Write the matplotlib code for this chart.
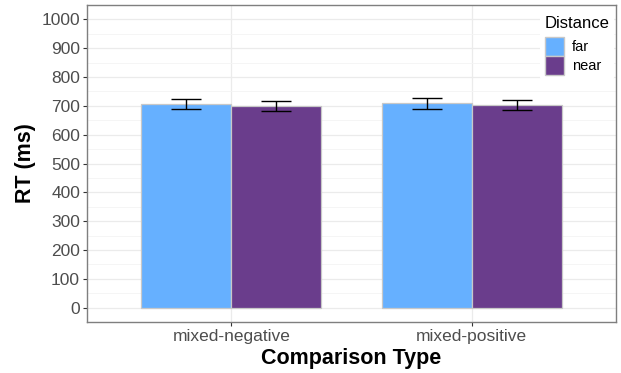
import numpy as np
import matplotlib.pyplot as plt
from matplotlib.patches import Patch
from matplotlib.ticker import MultipleLocator

plt.rcParams['font.family'] = ['Liberation Sans', 'DejaVu Sans']

# data
comparison = ['mixed-negative', 'mixed-positive']
distance = ['far', 'near']
rt_far = [707, 709]
rt_near = [700, 703]
se_far = [18.5, 19]
se_near = [17, 19]
colors = {'far': '#66b0ff', 'near': '#6a3d8c'}

fig = plt.figure(figsize=(6.21, 3.73), dpi=100)
ax = fig.add_axes([87 / 621, 1 - 322 / 373, (616 - 87) / 621, (322 - 5) / 373])

x = np.arange(1, len(comparison) + 1)
w = 0.375
for off, vals, errs, name in [(-w / 2, rt_far, se_far, 'far'), (w / 2, rt_near, se_near, 'near')]:
    ax.bar(x + off, vals, width=w, color=colors[name], edgecolor='#c8c8c8', linewidth=0.9, zorder=2)
    ax.errorbar(x + off, vals, yerr=errs, fmt='none', ecolor='black', elinewidth=1.0,
                capsize=11, capthick=1.0, zorder=3)

ax.set_xlim(0.4, 2.6)
ax.set_ylim(-50, 1050)
ax.set_xticks(x)
ax.set_xticklabels(comparison)
ax.yaxis.set_major_locator(MultipleLocator(100))
ax.yaxis.set_minor_locator(MultipleLocator(50))
ax.tick_params(axis='both', which='major', labelsize=12.5, labelcolor='#4d4d4d', color='#333333',
               length=3, width=0.8, pad=2)
ax.tick_params(axis='y', which='minor', length=0)
ax.grid(True, which='major', color='#ebebeb', linewidth=0.9, zorder=0)
ax.grid(True, which='minor', axis='y', color='#f4f4f4', linewidth=0.6, zorder=0)
ax.set_axisbelow(True)
for s in ax.spines.values():
    s.set_color('#7f7f7f')
    s.set_linewidth(1.0)

ax.set_xlabel('Comparison Type', fontsize=15.5, fontweight='bold', labelpad=3)
ax.set_ylabel('RT (ms)', fontsize=15.5, fontweight='bold', labelpad=4)

handles = [Patch(facecolor=colors[d], edgecolor='#c8c8c8', label=d) for d in distance]
leg = ax.legend(handles=handles, title='Distance', loc='upper right', bbox_to_anchor=(1.0, 0.985),
                frameon=True, fontsize=10.5, title_fontsize=12, handlelength=1.3, handleheight=1.65,
                handletextpad=0.6, labelspacing=0.0, borderpad=0.3, borderaxespad=0.15)
leg.get_frame().set_edgecolor('none')
leg.get_frame().set_facecolor('white')
leg.get_frame().set_alpha(1)
leg._legend_box.align = 'left'
leg._legend_box.sep = 4

fig.savefig('out.png', dpi=100)
